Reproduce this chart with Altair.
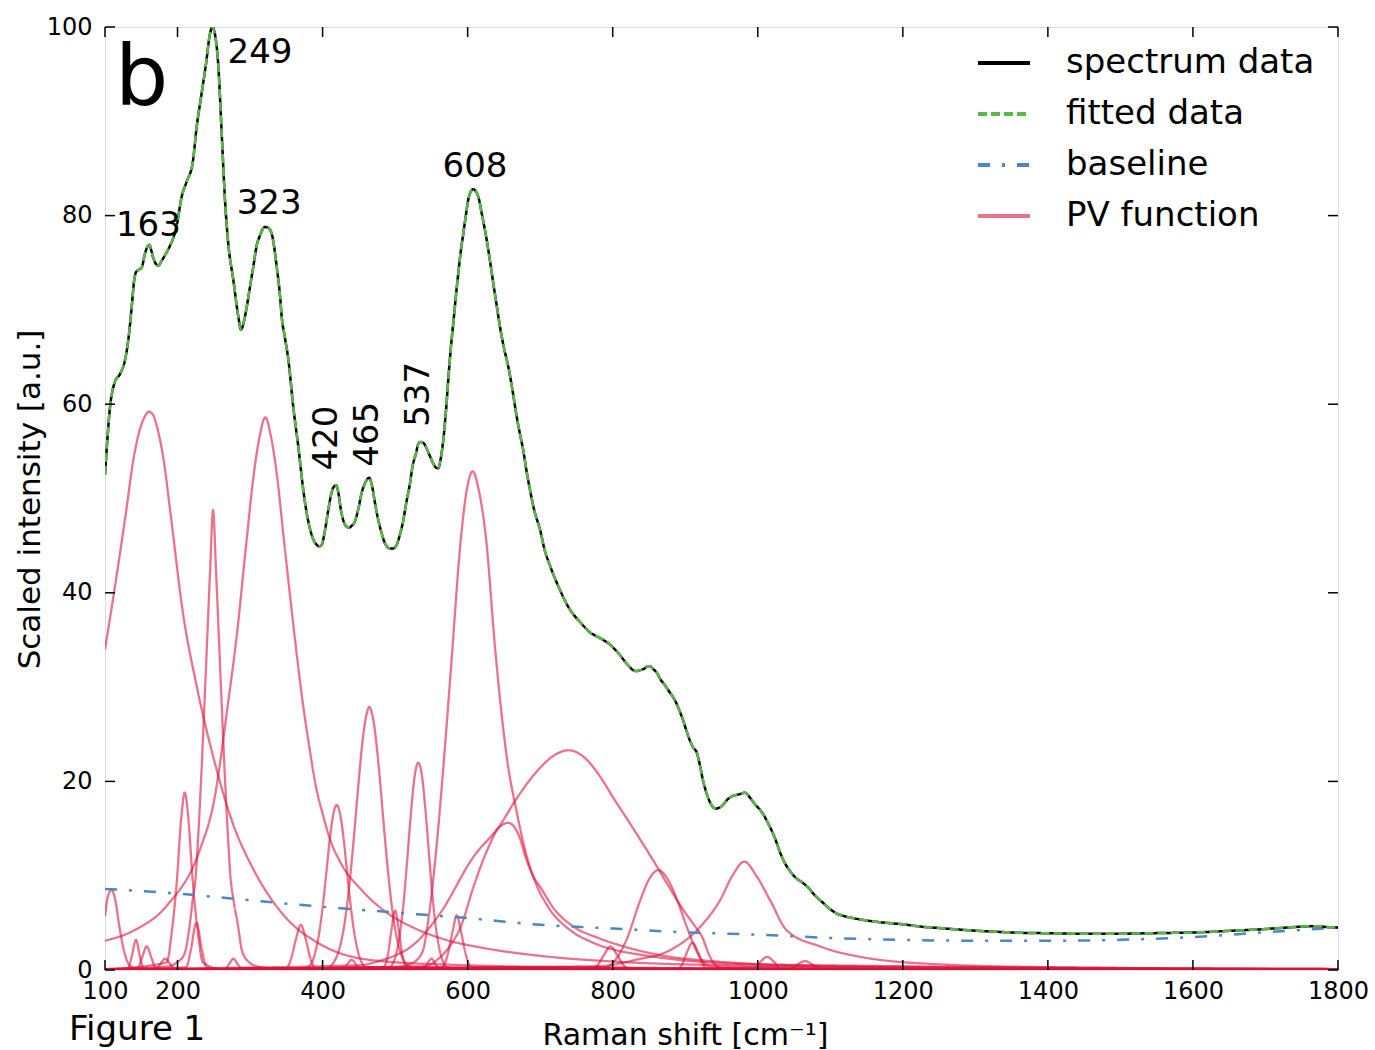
import altair as alt
import pandas as pd

W, H = 1233, 943

# ---------------- spectrum ----------------
spec_x = [100, 103.5, 106.9, 110, 113.8, 120.7, 127.6, 132.1, 136.8, 140, 142.7, 147.3, 150.6, 155.2, 158.5,
          161.1, 163.5, 166.6, 170, 173.5, 178, 182.7, 189.6, 194, 198.8, 205.7, 212.6, 220.9, 226.4, 233.3,
          239.3, 244.8, 248, 251.7, 256.3, 260.9, 265.4, 270, 276.9, 283.8, 287.5, 291, 295.4, 300, 304.5,
          309.1, 313.7, 320.6, 325, 329.8, 333, 336.7, 341.3, 343.6, 348.2, 352.7, 359.6, 366.5, 373.4, 378,
          382.6, 387, 391.9, 395, 398.8, 403, 407.9, 412, 415, 418.5, 422, 425, 427.7, 432, 436.8, 440, 444.7,
          449, 453.9, 459, 464.3, 468, 472.3, 476, 481.5, 487, 493, 497, 502.2, 506, 511.3, 515, 520.5, 524,
          528.8, 532, 535.2, 539, 543.5, 548, 552.7, 556, 559.5, 563, 566.4, 570, 573.3, 576.6, 580.2, 584.9,
          587.1, 590.5, 594, 597.5, 600.9, 604, 607.8, 611, 614.7, 620, 626.3, 630.8, 635.4, 640, 644.6, 650,
          656, 662, 667.6, 672, 676.7, 681, 686, 692, 699.8, 706, 713.5, 720, 727.3, 734, 741.2, 748, 755, 762,
          768.7, 775, 782.5, 789, 796.3, 803, 810, 817, 823.9, 828, 833.5, 838, 844.5, 848, 851.4, 856, 861,
          866, 872, 879, 885.9, 891, 897, 902, 906.6, 911, 916.2, 920, 924.5, 929.6, 934.1, 938, 942.4, 946,
          950.7, 957.2, 961.7, 967, 972.8, 977, 982.4, 986, 989, 992, 997, 1003, 1007.6, 1014, 1021.4, 1026,
          1030.6, 1037, 1044.4, 1052, 1062.8, 1070, 1076.6, 1083, 1090.4, 1099, 1108.8, 1120, 1131.7, 1146,
          1165, 1185, 1200, 1225, 1250, 1275, 1304, 1330, 1360, 1400, 1440, 1472, 1500, 1540, 1580, 1610, 1650,
          1690, 1720, 1750, 1770, 1785, 1800]
spec_y = [52.5, 56.5, 59.7, 61.3, 62.4, 63.2, 64.7, 66.8, 70.3, 73.0, 74.0, 74.3, 74.5, 76.0, 76.7,
          76.9, 76.4, 75.5, 74.9, 74.7, 75.2, 75.8, 76.8, 77.6, 78.9, 82.0, 83.6, 85.6, 89.4, 93.0,
          96.1, 99.3, 100.0, 99.2, 95.8, 88.7, 81.7, 77.0, 73.2, 69.3, 67.9, 68.6, 70.3, 72.5, 74.6,
          76.8, 77.9, 78.8, 78.7, 78.1, 76.8, 74.6, 71.5, 69.3, 67.0, 64.8, 59.7, 55.5, 50.9, 48.5,
          46.8, 45.7, 45.1, 44.9, 45.1, 46.5, 48.8, 50.5, 51.2, 51.4, 50.5, 48.9, 47.9, 47.1, 46.9, 47.1, 47.6,
          48.8, 50.6, 51.7, 52.2, 51.4, 49.5, 48.0, 46.3, 45.1, 44.7, 44.7, 45.1, 46.0, 47.7, 49.4, 51.6, 53.4,
          54.8, 55.8, 56.0, 55.9, 55.3, 54.5, 53.7, 53.3, 53.2, 54.3, 56.2, 59.2, 62.6, 65.8, 68.6, 72.3,
          73.9, 76.2, 78.1, 80.0, 81.7, 82.5, 82.8, 82.6, 82.0, 80.0, 77.4, 75.2, 72.8, 70.5, 68.2, 66.0,
          64.0, 61.4, 58.7, 56.9, 55.1, 53.0, 50.9, 48.7, 46.7, 44.6, 42.9, 41.6, 40.3, 39.2, 38.2, 37.5, 36.9, 36.3,
          35.8, 35.5, 35.2, 34.9, 34.5, 34.0, 33.4, 32.7, 32.1, 31.8, 31.7, 31.8, 32.0, 32.2, 32.2, 31.9, 31.5,
          30.8, 30.2, 29.4, 28.6, 27.7, 26.5, 25.3, 24.3, 23.6, 23.0, 21.8, 20.1, 18.7, 17.8, 17.3, 17.1, 17.2,
          17.4, 18.0, 18.3, 18.5, 18.6, 18.7, 18.8, 18.6, 18.3, 18.0, 17.5, 17.0, 16.5, 15.6, 14.4, 13.5,
          12.5, 11.4, 10.5, 9.8, 9.2, 8.7, 8.1, 7.6, 7.1, 6.5, 6.0, 5.7, 5.5, 5.3,
          5.1, 4.95, 4.85, 4.6, 4.45, 4.3, 4.15, 4.05, 3.95, 3.9, 3.85, 3.85, 3.85, 3.9, 3.95, 4.0, 4.15,
          4.3, 4.45, 4.6, 4.65, 4.55, 4.5]

# fitted data coincides with the spectrum on the picture
fit_x = list(spec_x)
fit_y = list(spec_y)

# ---------------- baseline ----------------
base_x = [100, 200, 300, 400, 500, 600, 700, 800, 900, 1000, 1100, 1200, 1300, 1400, 1500, 1600, 1700, 1800]
base_y = [8.6, 8.1, 7.4, 6.7, 6.1, 5.5, 4.8, 4.4, 4.0, 3.75, 3.4, 3.2, 3.1, 3.1, 3.2, 3.5, 4.0, 4.5]

# ---------------- PV function components ----------------
pv01_x = [100, 104, 109, 114, 120, 127, 135, 150, 1800]
pv01_y = [5.7, 7.8, 8.5, 7.5, 4.5, 1.8, 0.4, 0.05, 0.01]
pv02_x = [100, 132, 137, 142.7, 148, 153, 170, 1800]
pv02_y = [0.02, 0.2, 1.5, 3.2, 1.5, 0.2, 0.02, 0.01]
pv03_x = [100, 145, 151, 157.5, 164, 170, 190, 1800]
pv03_y = [0.02, 0.2, 1.3, 2.5, 1.3, 0.2, 0.02, 0.01]
pv04_x = [100, 170, 176, 183, 190, 196, 220, 1800]
pv04_y = [0.02, 0.1, 0.6, 1.2, 0.6, 0.1, 0.02, 0.01]
pv05_x = [100, 185, 192, 199, 205, 210, 215, 221, 228, 235, 260, 1800]
pv05_y = [0.05, 0.8, 4.0, 9.4, 16.0, 18.8, 16.0, 9.4, 4.0, 0.8, 0.1, 0.01]
pv06_x = [100, 212, 218, 226, 234, 240, 260, 1800]
pv06_y = [0.02, 0.3, 2.0, 5.0, 2.0, 0.3, 0.02, 0.01]
pv07_x = [100, 189, 199, 209, 217, 221, 225, 229, 233, 237, 241, 245, 249, 253, 257, 261, 265, 269,
          273, 277, 283, 289, 299, 309, 330, 1800]
pv07_y = [0.1, 0.4, 0.8, 1.6, 4.9, 7.5, 9.9, 14.9, 21.0, 28.0, 35.3, 42.5, 48.8, 42.5, 35.3, 28.0, 21.0,
          14.9, 9.9, 7.5, 4.9, 2.0, 0.8, 0.4, 0.2, 0.02]
pv08_x = [100, 113, 128.5, 140, 148, 155, 160, 166, 172, 180, 191, 207, 227, 252, 276, 301, 325, 350,
          399, 473, 600, 800, 1200, 1800]
pv08_y = [34.0, 40.3, 48.3, 54.5, 57.3, 58.7, 59.2, 58.9, 57.5, 54.5, 48.0, 38.1, 29.9, 21.8, 15.6, 11.2,
          8.0, 5.5, 2.65, 1.0, 0.5, 0.25, 0.1, 0.05]
pv09_x = [100, 140, 185, 231, 250, 270, 282, 295, 305, 313, 321, 329, 337, 347, 361, 371, 381, 391, 401,
          411, 424, 456, 490, 525, 570, 617, 700, 800, 1000, 1400, 1800]
pv09_y = [3.1, 4.2, 6.8, 12.8, 17.8, 28.5, 35.7, 45.4, 52.5, 56.5, 58.6, 56.5, 52.5, 45.4, 35.7, 29.3,
          24.0, 19.4, 16.3, 13.7, 11.5, 8.3, 6.0, 4.5, 3.2, 2.4, 1.5, 0.9, 0.45, 0.2, 0.1]
pv10_x = [100, 370, 380, 390, 395, 400, 405, 410, 415, 419.5, 424, 429, 434, 439, 444, 449, 459, 470,
          520, 1800]
pv10_y = [0.05, 0.2, 0.33, 1.9, 3.8, 6.6, 10.2, 13.9, 16.6, 17.5, 16.6, 13.9, 10.2, 6.6, 3.8, 1.9, 0.33,
          0.15, 0.08, 0.02]
pv11_x = [100, 405, 415, 425, 430, 435, 440, 445, 450, 455, 460, 464.5, 469, 474, 479, 484, 489, 494,
          499, 504, 514, 525, 560, 1800]
pv11_y = [0.05, 0.2, 0.78, 2.8, 4.8, 7.7, 11.4, 15.7, 20.2, 24.2, 26.9, 27.9, 26.9, 24.2, 20.2, 15.7,
          11.4, 7.7, 4.8, 2.8, 0.78, 0.2, 0.1, 0.02]
pv12_x = [100, 492, 502, 507, 512, 517, 522, 527, 532, 537, 542, 547, 552, 557, 562, 572, 600, 1800]
pv12_y = [0.03, 0.3, 1.9, 4.1, 7.4, 12.0, 16.8, 20.6, 22.0, 20.6, 16.8, 12.0, 7.4, 4.1, 1.9, 0.3, 0.08, 0.02]
pv13_x = [100, 500, 520, 537, 547, 557, 567, 577, 591, 599, 607, 615, 625, 638, 647, 655, 667, 680, 695,
          710, 740, 770, 840, 1000, 1800]
pv13_y = [0.1, 0.3, 0.6, 1.8, 6.0, 13.0, 22.0, 32.0, 46.0, 51.0, 52.9, 51.0, 46.0, 34.0, 27.0, 22.0,
          17.0, 12.5, 9.0, 6.8, 4.3, 3.0, 1.6, 0.6, 0.1]
pv14_x = [100, 540, 560, 575, 590, 608, 620, 631, 640, 648, 656, 664, 672, 681, 690, 700, 720, 746, 780,
          815, 900, 1100, 1800]
pv14_y = [0.05, 0.4, 1.2, 2.5, 4.5, 8.8, 11.4, 13.4, 14.8, 15.4, 15.6, 15.2, 14.0, 11.7, 10.0, 8.8, 6.4,
          4.6, 3.4, 2.5, 1.2, 0.4, 0.1]
pv15_x = [100, 450, 480, 530, 562, 608, 645, 666, 697, 720, 739, 760, 780, 803, 830, 856, 877, 898, 912,
          924, 933, 942, 955, 1800]
pv15_y = [0.1, 0.5, 1.0, 3.0, 6.0, 12.0, 15.4, 18.0, 21.2, 22.8, 23.3, 22.6, 20.8, 18.0, 14.8, 11.6, 8.9,
          6.3, 4.8, 3.4, 1.6, 0.5, 0.12, 0.02]
pv16_x = [100, 790, 805, 819, 838, 850, 863, 876, 890, 902, 920, 935, 1800]
pv16_y = [0.02, 0.3, 1.2, 3.2, 7.4, 9.6, 10.6, 9.6, 7.2, 4.6, 1.4, 0.35, 0.02]
pv17_x = [100, 780, 833, 879, 925, 948, 965, 981.5, 998, 1017, 1040, 1086, 1141, 1250, 1400, 1800]
pv17_y = [0.05, 0.4, 1.1, 2.1, 4.95, 7.4, 10.0, 11.5, 10.0, 7.4, 4.2, 2.5, 1.4, 0.6, 0.3, 0.1]
pv18_x = [100, 770, 780, 788, 797, 806, 814, 825, 1800]
pv18_y = [0.02, 0.1, 0.6, 1.6, 2.5, 1.6, 0.6, 0.1, 0.02]
pv19_x = [100, 890, 897, 903, 910, 917, 923, 930, 1800]
pv19_y = [0.02, 0.1, 0.8, 2.0, 2.9, 2.0, 0.8, 0.1, 0.02]
pv20_x = [100, 995, 1003, 1013, 1023, 1031, 1800]
pv20_y = [0.02, 0.1, 0.8, 1.4, 0.8, 0.1, 0.02]
pv21_x = [100, 1045, 1055, 1065, 1075, 1085, 1800]
pv21_y = [0.02, 0.1, 0.6, 0.95, 0.6, 0.1, 0.02]
pv22_x = [100, 350, 357, 363, 370, 377, 383, 390, 1800]
pv22_y = [0.02, 0.2, 1.3, 3.2, 4.8, 3.2, 1.3, 0.2, 0.02]
pv23_x = [100, 484, 490, 495, 500, 505, 510, 516, 1800]
pv23_y = [0.02, 0.3, 1.6, 4.3, 6.3, 4.3, 1.6, 0.3, 0.02]
pv24_x = [100, 565, 572, 579, 585, 591, 598, 605, 1800]
pv24_y = [0.02, 0.3, 1.5, 4.0, 5.8, 4.0, 1.5, 0.3, 0.02]
pv25_x = [100, 428, 434, 440, 446, 452, 1800]
pv25_y = [0.02, 0.1, 0.6, 1.1, 0.6, 0.1, 0.02]
pv26_x = [100, 265, 271, 277, 283, 289, 1800]
pv26_y = [0.02, 0.1, 0.6, 1.2, 0.6, 0.1, 0.02]
pv27_x = [100, 538, 544, 550, 556, 562, 1800]
pv27_y = [0.02, 0.1, 0.6, 1.2, 0.6, 0.1, 0.02]

# ---------------- ticks and labels ----------------
x_ticks = [100, 200, 400, 600, 800, 1000, 1200, 1400, 1600, 1800]
y_ticks = [0, 20, 40, 60, 80, 100]

ann_text = ["163", "249", "323", "608"]
ann_x = [159.9, 313.7, 326.3, 610.1]
ann_y = [78.9, 97.2, 81.2, 85.15]
rot_text = ["420", "465", "537"]
rot_x = [406.6, 463.0, 533.2]
rot_y = [56.4, 56.8, 61.06]

series_names = ["spectrum data", "fitted data", "baseline", "PV function"]
series_colors = ["#000000", "#5ab946", "#4a86c8", "#dc143c"]
series_opacity = [1, 1, 1, 0.6]

FONT = "DejaVu Sans"

# ---------------- build tables ----------------
pv_sets = [
    (pv01_x, pv01_y), (pv02_x, pv02_y), (pv03_x, pv03_y), (pv04_x, pv04_y), (pv05_x, pv05_y),
    (pv06_x, pv06_y), (pv07_x, pv07_y), (pv08_x, pv08_y), (pv09_x, pv09_y), (pv10_x, pv10_y),
    (pv11_x, pv11_y), (pv12_x, pv12_y), (pv13_x, pv13_y), (pv14_x, pv14_y), (pv15_x, pv15_y),
    (pv16_x, pv16_y), (pv17_x, pv17_y), (pv18_x, pv18_y), (pv19_x, pv19_y), (pv20_x, pv20_y),
    (pv21_x, pv21_y), (pv22_x, pv22_y), (pv23_x, pv23_y), (pv24_x, pv24_y), (pv25_x, pv25_y),
    (pv26_x, pv26_y), (pv27_x, pv27_y),
]
pv_rows = []
for i, (xs, ys) in enumerate(pv_sets):
    for j, (a, b) in enumerate(zip(xs, ys)):
        pv_rows.append({"x": a, "y": b, "peak": f"pv{i:02d}", "i": j, "series": "PV function"})
df_pv = pd.DataFrame(pv_rows)

df_spec = pd.DataFrame({"x": spec_x, "y": spec_y, "series": "spectrum data"})
df_spec["i"] = range(len(df_spec))
df_fit = pd.DataFrame({"x": fit_x, "y": fit_y, "series": "fitted data"})
df_fit["i"] = range(len(df_fit))
df_base = pd.DataFrame({"x": base_x, "y": base_y, "series": "baseline"})
df_base["i"] = range(len(df_base))

xscale = alt.Scale(domain=[100, 1800], nice=False, zero=False)
yscale = alt.Scale(domain=[0, 100], nice=False)

xaxis = alt.Axis(values=x_ticks, format="d", title="Raman shift [cm\u207b\u00b9]", labelFontSize=24,
                 labelFont=FONT, labelColor="black", labelPadding=9, labelFlush=False, ticks=False,
                 tickSize=0, domain=False, grid=False, titleFontSize=30, titleFont=FONT,
                 titleFontWeight="normal", titleColor="black", titleX=580, titleY=74, titleAlign="center",
                 titleBaseline="alphabetic", labelOverlap=False)
yaxis = alt.Axis(values=y_ticks, format="d", title="Scaled intensity [a.u.]", labelFontSize=24,
                 labelFont=FONT, labelColor="black", labelPadding=13, labelFlush=False, ticks=False,
                 tickSize=0, domain=False, grid=False, titleFontSize=31, titleFont=FONT,
                 titleFontWeight="normal", titleColor="black", titleX=-75, titleY=472, titleAngle=270,
                 titleAlign="center", titleBaseline="middle", labelOverlap=False)

legend = alt.Legend(title=None, orient="none", legendX=871, legendY=8, symbolType="stroke",
                    symbolSize=2704, symbolStrokeWidth=4, labelFontSize=34, labelFont=FONT,
                    labelColor="black", labelOffset=34, rowPadding=6, padding=0, labelLimit=0)

color_scale = alt.Scale(domain=series_names, range=series_colors)
dash_scale = alt.Scale(domain=series_names, range=[[1, 0], [9, 4], [12, 12, 3, 12], [1, 0]])
op_scale = alt.Scale(type="ordinal", domain=series_names, range=series_opacity)


def line_layer(df, width, detail=None):
    enc = dict(
        x=alt.X("x:Q", scale=xscale, axis=xaxis),
        y=alt.Y("y:Q", scale=yscale, axis=yaxis),
        order=alt.Order("i:Q"),
        color=alt.Color("series:N", scale=color_scale, legend=legend),
        strokeDash=alt.StrokeDash("series:N", scale=dash_scale, legend=legend),
        opacity=alt.Opacity("series:N", scale=op_scale, legend=legend),
    )
    if detail:
        enc["detail"] = alt.Detail(detail)
    return alt.Chart(df).mark_line(strokeWidth=width, interpolate="monotone", clip=True).encode(**enc)


pv_layer = line_layer(df_pv, 2.3, detail="peak:N")
base_layer = line_layer(df_base, 2.5)
spec_layer = line_layer(df_spec, 2.5)
fit_layer = line_layer(df_fit, 2.5)

df_xt = pd.DataFrame({"v": x_ticks})
df_yt = pd.DataFrame({"v": y_ticks})
tick_style = dict(color="black", strokeWidth=1.5)
xt_bottom = alt.Chart(df_xt).mark_rule(**tick_style).encode(
    x=alt.X("v:Q", scale=xscale, axis=xaxis), y=alt.value(H), y2=alt.value(H - 10))
xt_top = alt.Chart(df_xt).mark_rule(**tick_style).encode(
    x=alt.X("v:Q", scale=xscale, axis=xaxis), y=alt.value(0), y2=alt.value(10))
yt_left = alt.Chart(df_yt).mark_rule(**tick_style).encode(
    y=alt.Y("v:Q", scale=yscale, axis=yaxis), x=alt.value(0), x2=alt.value(10))
yt_right = alt.Chart(df_yt).mark_rule(**tick_style).encode(
    y=alt.Y("v:Q", scale=yscale, axis=yaxis), x=alt.value(W), x2=alt.value(W - 10))

df_ann = pd.DataFrame({"t": ann_text, "x": ann_x, "y": ann_y})
ann_layer = alt.Chart(df_ann).mark_text(fontSize=34, font=FONT, color="black", align="center",
                                        baseline="middle").encode(
    x=alt.X("x:Q", scale=xscale, axis=xaxis), y=alt.Y("y:Q", scale=yscale, axis=yaxis), text="t:N")
df_rot = pd.DataFrame({"t": rot_text, "x": rot_x, "y": rot_y})
rot_layer = alt.Chart(df_rot).mark_text(fontSize=34, font=FONT, color="black", align="center",
                                        baseline="middle", angle=270).encode(
    x=alt.X("x:Q", scale=xscale, axis=xaxis), y=alt.Y("y:Q", scale=yscale, axis=yaxis), text="t:N")

b_layer = alt.Chart(pd.DataFrame({"t": ["b"]})).mark_text(
    fontSize=84, font=FONT, color="black", align="left", baseline="alphabetic").encode(
    x=alt.value(10), y=alt.value(78), text="t:N")
fig_layer = alt.Chart(pd.DataFrame({"t": ["Figure 1"]})).mark_text(
    fontSize=34, font=FONT, color="black", align="left", baseline="alphabetic").encode(
    x=alt.value(-36), y=alt.value(1013), text="t:N")

chart = alt.layer(
    pv_layer, base_layer, spec_layer, fit_layer,
    xt_bottom, xt_top, yt_left, yt_right,
    ann_layer, rot_layer, b_layer, fig_layer,
).properties(
    width=W, height=H,
    autosize=alt.AutoSizeParams(type="none"),
    padding={"left": 105, "top": 27, "right": 37, "bottom": 80},
    background="white",
).configure_view(
    stroke="black", strokeWidth=2
).configure(font=FONT)

chart.save("out.html", embed_options={"renderer": "svg", "actions": False})
